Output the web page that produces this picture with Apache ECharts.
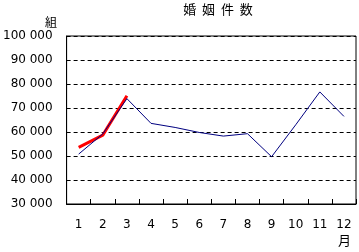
<!DOCTYPE html>
<html>
<head>
<meta charset="utf-8">
<script src="https://cdn.jsdelivr.net/npm/echarts@6/dist/echarts.min.js"></script>
<style>
html, body { margin: 0; padding: 0; background: #fff; }
#chart { width: 359px; height: 252px; }
</style>
</head>
<body>
<div id="chart"></div>
<script>
var months = ['1', '2', '3', '4', '5', '6', '7', '8', '9', '10', '11', '12'];
// 前年
var lastYear = [50800, 59200, 73900, 63600, 61900, 59800, 58300, 59300, 49700, 63000, 76700, 66500];
// 今年
var thisYear = [53600, 58700, 75100];

var chart = echarts.init(document.getElementById('chart'));

var fontFam = '"DejaVu Sans", "Noto Sans CJK JP", sans-serif';

var option = {
    backgroundColor: '#fff',
    animation: false,
    grid: {
        left: 66,
        right: 3,
        top: 36,
        bottom: 48,
        show: true,
        borderColor: '#000',
        borderWidth: 1
    },
    xAxis: {
        type: 'category',
        data: months,
        boundaryGap: true,
        axisLine: { lineStyle: { color: '#000', width: 1 } },
        axisTick: { show: true, inside: true, length: 5, interval: 0, lineStyle: { color: '#000' } },
        axisLabel: {
            interval: 0,
            margin: 15,
            fontFamily: fontFam,
            fontSize: 12,
            color: '#000'
        }
    },
    yAxis: {
        type: 'value',
        min: 30000,
        max: 100000,
        interval: 10000,
        axisLine: { show: true, lineStyle: { color: '#000', width: 1 } },
        axisTick: { show: false },
        splitLine: { lineStyle: { color: '#000', type: [4, 3], width: 1 } },
        axisLabel: {
            margin: 14,
            fontFamily: fontFam,
            fontSize: 12,
            color: '#000',
            formatter: function (v) {
                var s = String(v);
                return s.slice(0, s.length - 3) + ' ' + s.slice(s.length - 3);
            }
        }
    },
    graphic: [
        {
            type: 'text',
            x: 218,
            y: 3,
            style: {
                text: '婚  姻  件  数',
                font: '13px "Noto Sans CJK JP", sans-serif',
                fill: '#000',
                align: 'center'
            }
        },
        {
            type: 'text',
            left: 45,
            top: 16,
            style: {
                text: '組',
                font: '12px "Noto Sans CJK JP", sans-serif',
                fill: '#000'
            }
        },
        {
            type: 'text',
            left: 338,
            top: 234,
            style: {
                text: '月',
                font: '13px "Noto Sans CJK JP", sans-serif',
                fill: '#000'
            }
        }
    ],
    series: [
        {
            name: '前年',
            type: 'line',
            data: lastYear,
            symbol: 'none',
            lineStyle: { color: '#000080', width: 1 },
            z: 3
        },
        {
            name: '今年',
            type: 'line',
            data: thisYear,
            symbol: 'none',
            lineStyle: { color: '#ff0000', width: 3 },
            z: 2
        }
    ]
};

chart.setOption(option);
</script>
</body>
</html>
